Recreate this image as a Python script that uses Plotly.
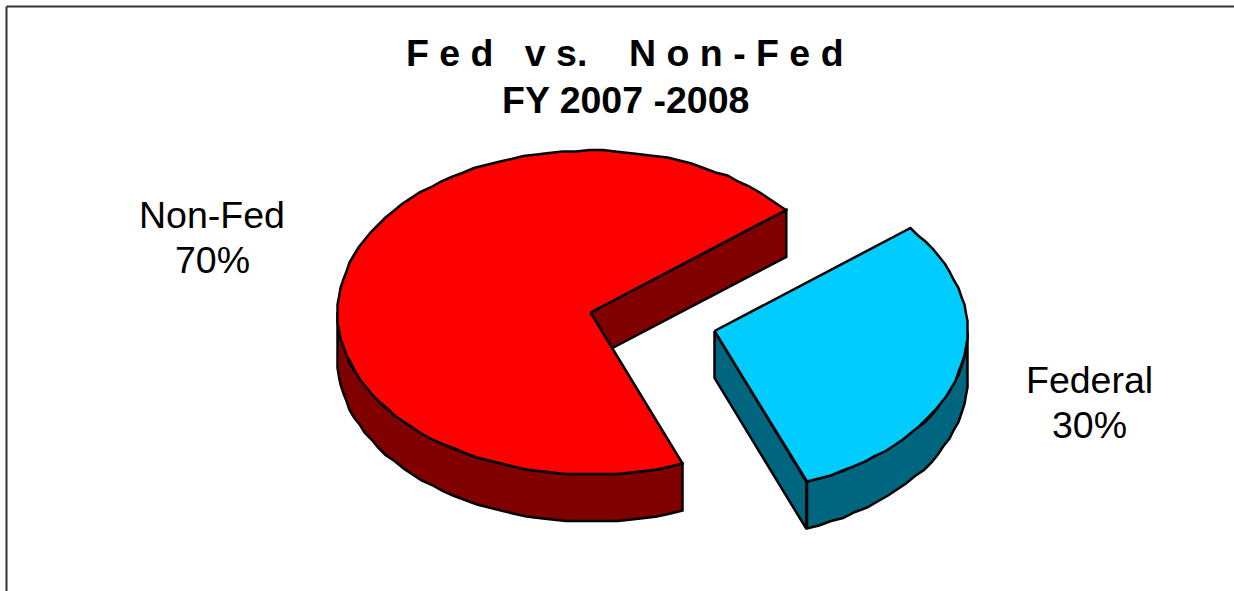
import numpy as np
import plotly.graph_objects as go

categories = ["Federal", "Non-Fed"]
shares = [30, 70]
title_lines = ["F e d   v s.    N o n - F e d", "FY 2007 -2008"]

top_colors = ["#00CCFF", "#FF0000"]
side_colors = ["#006680", "#800000"]
START_DEG = 39.3
RX, RY, DEPTH = 253.0, 162.0, 47.0
CENTERS = [(714.5, 331.0), (590.5, 312.5)]
LABEL_POS = [(1089, 380, 425), (212, 215, 260)]
FONT = "Liberation Sans, Arial, sans-serif"
FONT_SIZE = 37.5

fig = go.Figure()


def arc(cx, cy, a0, a1):
    n = max(2, int(abs(a1 - a0) / 3.0) + 1)
    t = np.radians(np.linspace(a0, a1, n))
    return np.round((cx + RX * np.cos(t)) / 1.5) * 1.5, np.round((cy - RY * np.sin(t)) / 1.5) * 1.5


def poly(xs, ys, fill):
    xs = list(xs) + [xs[0]]
    ys = list(ys) + [ys[0]]
    fig.add_trace(go.Scatter(x=xs, y=ys, mode="lines", fill="toself", fillcolor=fill,
                             line=dict(color="#000000", width=2.5, simplify=False),
                             hoverinfo="skip", showlegend=False))


total = sum(shares)
angle = START_DEG
for i, (cat, val) in enumerate(zip(categories, shares)):
    a0 = angle
    a1 = angle - 360.0 * val / total  # clockwise from the start angle
    angle = a1
    cx, cy = CENTERS[i]
    # the radial wall at the clockwise end faces the viewer
    ex = cx + RX * np.cos(np.radians(a1))
    ey = cy - RY * np.sin(np.radians(a1))
    poly([cx, ex, ex, cx], [cy, ey, ey + DEPTH, cy + DEPTH], side_colors[i])
    # front of the outer rim: the part of the arc below the centre line
    ax, ay = arc(cx, cy, max(a1, -180), min(a0, 0))
    poly(list(ax) + list(ax[::-1]), list(ay) + list((ay + DEPTH)[::-1]), side_colors[i])
    # top face
    tx, ty = arc(cx, cy, a0, a1)
    poly([cx] + list(tx), [cy] + list(ty), top_colors[i])

annotations = []
for line, y in zip(title_lines, (53, 100)):
    annotations.append(dict(x=625, y=y, text=f"<b>{line}</b>", showarrow=False,
                            font=dict(family=FONT, size=FONT_SIZE, color="#000000"),
                            xanchor="center", yanchor="middle"))
for cat, val, (lx, y1, y2) in zip(categories, shares, LABEL_POS):
    for t, y in ((cat, y1), (f"{val}%", y2)):
        annotations.append(dict(x=lx, y=y, text=t, showarrow=False,
                                font=dict(family=FONT, size=FONT_SIZE, color="#000000"),
                                xanchor="center", yanchor="middle"))

fig.update_layout(
    width=1234, height=591, margin=dict(l=0, r=0, t=0, b=0),
    paper_bgcolor="#FFFFFF", plot_bgcolor="#FFFFFF",
    xaxis=dict(range=[0, 1234], visible=False, fixedrange=True),
    yaxis=dict(range=[591, 0], visible=False, fixedrange=True),
    annotations=annotations,
    shapes=[
        dict(type="line", xref="x", yref="y", x0=6.5, x1=6.5, y0=6.5, y1=591,
             line=dict(color="#333333", width=2)),
        dict(type="line", xref="x", yref="y", x0=6.5, x1=1234, y0=6.5, y1=6.5,
             line=dict(color="#333333", width=2)),
    ],
)
fig.write_html("out.html", config={"displayModeBar": False},
               post_script="document.body.style.margin='0';document.body.style.overflow='hidden';")
